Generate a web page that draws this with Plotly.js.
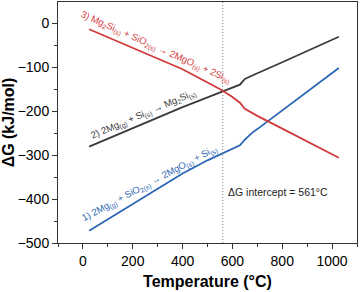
<!DOCTYPE html>
<html><head><meta charset="utf-8">
<script src="https://cdn.plot.ly/plotly-3.0.1.min.js"></script>
<style>html,body{margin:0;padding:0;background:#fff}#c{width:360px;height:292px}</style>
</head><body><div id="c"></div>
<script>
const temperature = [25, 100, 200, 300, 400, 500, 560, 600, 630, 650, 680, 700, 800, 900, 1000, 1027];
const dG_reaction1 = [-472, -446, -411, -376, -342, -312, -296, -287, -278, -265, -249, -241, -199, -157, -114, -102];
const dG_reaction2 = [-281, -263, -239, -215, -191, -169, -156, -147, -140, -127, -119, -114, -89, -64, -39, -31];
const dG_reaction3 = [-14, -32, -56, -80, -105, -135, -153, -168, -181, -195, -205, -211, -240, -269, -298, -306];
const interceptT = 561;
const labels = {
  r1: "1) 2Mg<sub>(g)</sub> + SiO<sub>2(s)</sub> → 2MgO<sub>(s)</sub> + Si<sub>(s)</sub>",
  r2: "2) 2Mg<sub>(g)</sub> + Si<sub>(s)</sub> → Mg<sub>2</sub>Si<sub>(s)</sub>",
  r3: "3) Mg<sub>2</sub>Si<sub>(s)</sub> + SiO<sub>2(s)</sub> → 2MgO<sub>(s)</sub> + 2Si<sub>(s)</sub>",
  intercept: "ΔG intercept = 561°C"
};
const cBlue = "#2a66b5", cBlack = "#3a3a3a", cRed = "#d03a3a";
const traces = [
  {x: temperature, y: dG_reaction1, mode: "lines", line: {color: cBlue, width: 1.8}},
  {x: temperature, y: dG_reaction2, mode: "lines", line: {color: cBlack, width: 1.8}},
  {x: temperature, y: dG_reaction3, mode: "lines", line: {color: cRed, width: 1.8}}
];
const font = {family: "Liberation Sans, Arial, sans-serif", color: "#000"};
const layout = {
  width: 360, height: 292,
  margin: {l: 58, r: 3, t: 2, b: 49},
  showlegend: false,
  paper_bgcolor: "#fff", plot_bgcolor: "#fff",
  font: font,
  xaxis: {
    range: [-100, 1100], tickvals: [0, 200, 400, 600, 800, 1000],
    ticks: "outside", ticklen: 5, tickwidth: 1, tickcolor: "#333",
    minor: {dtick: 100, ticks: "outside", ticklen: 3, tickcolor: "#333"},
    showgrid: false, zeroline: false, showline: true, linecolor: "#333", linewidth: 1, mirror: true,
    tickfont: {size: 14, family: font.family},
    title: {text: "<b>Temperature (°C)</b>", font: {size: 16, family: font.family}, standoff: 8}
  },
  yaxis: {
    range: [-500, 48], tickvals: [0, -100, -200, -300, -400, -500],
    ticks: "outside", ticklen: 5, tickwidth: 1, tickcolor: "#333",
    minor: {dtick: 50, ticks: "outside", ticklen: 3, tickcolor: "#333"},
    showgrid: false, zeroline: false, showline: true, linecolor: "#333", linewidth: 1, mirror: true,
    tickfont: {size: 14, family: font.family},
    title: {text: "<b>ΔG (kJ/mol)</b>", font: {size: 16, family: font.family}, standoff: 4}
  },
  shapes: [{type: "line", xref: "x", yref: "paper", x0: interceptT, x1: interceptT, y0: 0, y1: 1,
            line: {color: "#8a8a8a", width: 1, dash: "1px,2px"}}],
  annotations: [
    {x: 293, y: -56, xref: "x", yref: "y", text: labels.r3, showarrow: false, textangle: 24,
     font: {size: 9.5, color: cRed, family: font.family}},
    {x: 243, y: -207, xref: "x", yref: "y", text: labels.r2, showarrow: false, textangle: -23,
     font: {size: 9.5, color: cBlack, family: font.family}},
    {x: 269, y: -365, xref: "x", yref: "y", text: labels.r1, showarrow: false, textangle: -28,
     font: {size: 9.5, color: cBlue, family: font.family}},
    {x: 575, y: -385, xref: "x", yref: "y", text: labels.intercept, showarrow: false, xanchor: "left",
     font: {size: 10.5, color: "#222", family: font.family}}
  ]
};
Plotly.newPlot("c", traces, layout, {displayModeBar: false, staticPlot: true});
</script></body></html>
